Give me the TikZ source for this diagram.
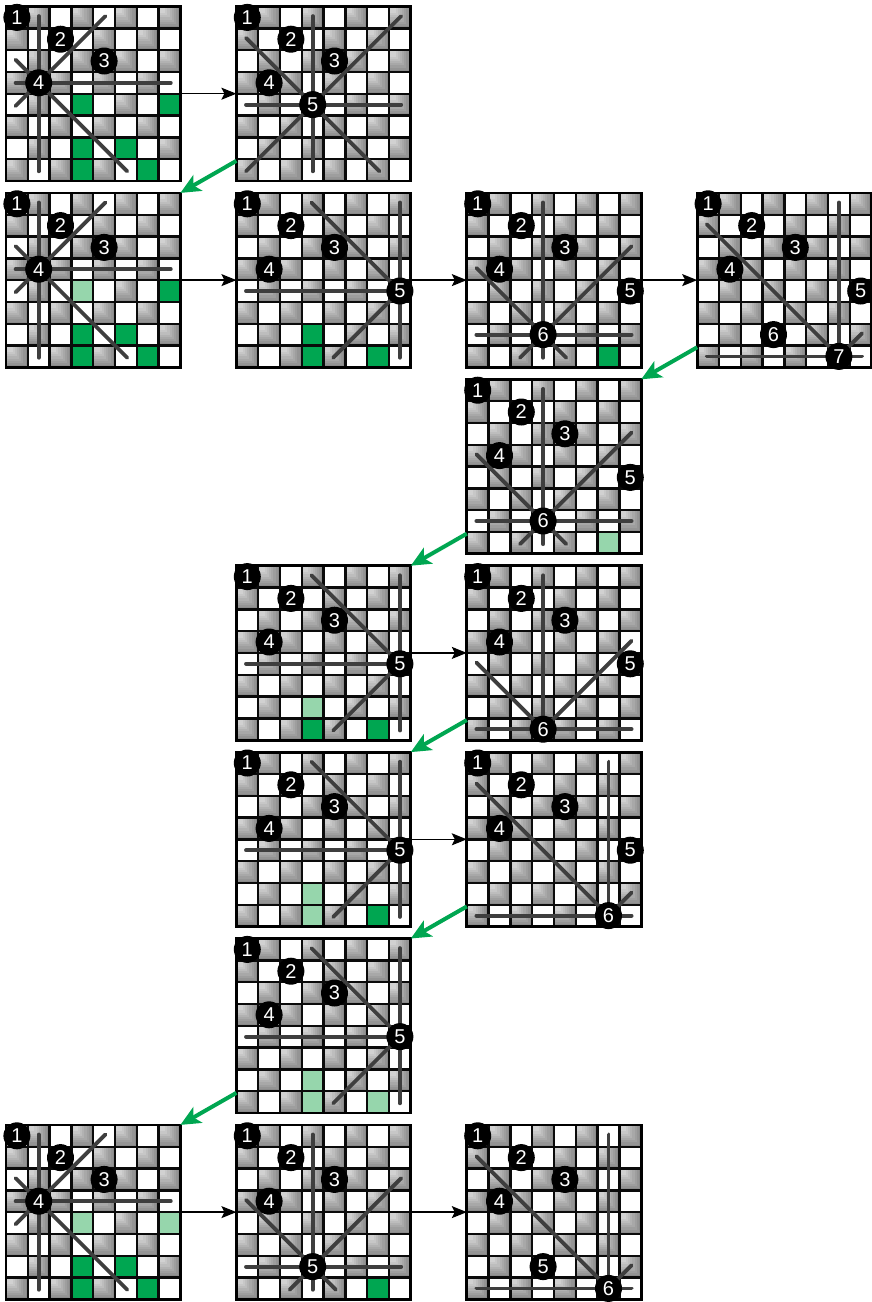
\documentclass[tikz,border=0pt]{standalone}
\usepackage{fontspec}
\newfontfamily\qfont{Liberation Sans}
\usetikzlibrary{arrows.meta,calc}
\definecolor{qgreen}{RGB}{0,166,81}
\definecolor{lgreen}{RGB}{150,214,172}
\definecolor{atkc}{RGB}{62,62,62}
\definecolor{gridc}{RGB}{10,10,10}
\newcounter{qn}
\tikzset{
 bd/.style 2 args={shift={(#1pt,-#2pt)},x=21.8pt,y=-21.8pt},
 frame/.style={draw=black, line width=2.8pt, minimum size=174.4pt, inner sep=0pt, outer sep=0pt},
 atk/.style={draw=atkc, line width=3.8pt, line cap=round},
 queen/.style={circle, fill=black, minimum size=27pt, inner sep=0pt, text=white, font=\qfont\fontsize{20}{20}\selectfont},
 fwd/.style={line width=1.4pt, -{Stealth[length=15pt,width=12pt,inset=3pt]}},
 back/.style={draw=qgreen, line width=4pt, -{Stealth[length=20pt,width=18pt,inset=5pt]}},
}
\newcommand\ext{0.06}
\newcommand\cells{%
 \fill[white] (0,0) rectangle (8,8);
 \foreach \r in {0,...,7}{\foreach \c in {0,...,7}{%
   \pgfmathtruncatemacro\pp{mod(\r+\c,2)}%
   \ifnum\pp=1
    \fill[black!46] (\c,\r) rectangle ++(1,1);
    \fill[black!42] (\c,\r) rectangle ++(0.9,0.9);
    \fill[black!38] (\c,\r) rectangle ++(0.8,0.8);
    \fill[black!34] (\c,\r) rectangle ++(0.7,0.7);
    \fill[black!30] (\c,\r) rectangle ++(0.6,0.6);
    \fill[black!26] (\c,\r) rectangle ++(0.5,0.5);
    \fill[black!22] (\c,\r) rectangle ++(0.4,0.4);
    \fill[black!18] (\c,\r) rectangle ++(0.3,0.3);
   \fi}}}
\newcommand\dgr[2]{\fill[qgreen] (#1,#2) rectangle ++(1,1);}
\newcommand\lgr[2]{\fill[lgreen] (#1,#2) rectangle ++(1,1);}
\newcommand\bgrid[1]{%
 \draw[gridc, line width=2.4pt] (0,0) grid[step=21.8pt] (8,8);
 \node[frame] (#1) at (4,4) {};}
\newcommand\attacks[2]{%
 \pgfmathtruncatemacro\kA{min(#1,#2)}%
 \pgfmathtruncatemacro\kB{min(7-#1,7-#2)}%
 \pgfmathtruncatemacro\kC{min(7-#1,#2)}%
 \pgfmathtruncatemacro\kD{min(#1,7-#2)}%
 \draw[atk] (#1+0.5,0.5-\ext) -- (#1+0.5,7.5+\ext);
 \draw[atk] (0.5-\ext,#2+0.5) -- (7.5+\ext,#2+0.5);
 \draw[atk] (#1-\kA+0.5-\ext,#2-\kA+0.5-\ext) -- (#1+\kB+0.5+\ext,#2+\kB+0.5+\ext);
 \draw[atk] (#1+\kC+0.5+\ext,#2-\kC+0.5-\ext) -- (#1-\kD+0.5-\ext,#2+\kD+0.5+\ext);}
\newcommand\qn[3]{\stepcounter{qn}\node[queen] (q\arabic{qn}) at (#1+0.5,#2+0.5) {#3};}
\newcommand\qbase{\qn{0}{0}{1}\qn{2}{1}{2}\qn{4}{2}{3}\qn{1}{3}{4}}
\begin{document}
\begin{tikzpicture}
\useasboundingbox (0pt,0pt) rectangle (872pt,-1302pt);
% Row A
\begin{scope}[bd={6}{6.5}]
 \cells \dgr{3}{4}\dgr{7}{4}\dgr{3}{6}\dgr{5}{6}\dgr{3}{7}\dgr{6}{7}
 \bgrid{bA1} \attacks{1}{3} \qbase
\end{scope}
\begin{scope}[bd={236.4}{6.5}]
 \cells \bgrid{bA2} \attacks{3}{4} \qbase \qn{3}{4}{5}
\end{scope}
% Row B
\begin{scope}[bd={6}{192.9}]
 \cells \lgr{3}{4}\dgr{7}{4}\dgr{3}{6}\dgr{5}{6}\dgr{3}{7}\dgr{6}{7}
 \bgrid{bB1} \attacks{1}{3} \qbase
\end{scope}
\begin{scope}[bd={236.4}{192.9}]
 \cells \dgr{3}{6}\dgr{3}{7}\dgr{6}{7}
 \bgrid{bB2} \attacks{7}{4} \qbase \qn{7}{4}{5}
\end{scope}
\begin{scope}[bd={466.8}{192.9}]
 \cells \dgr{6}{7}
 \bgrid{bB3} \attacks{3}{6} \qbase \qn{7}{4}{5}\qn{3}{6}{6}
\end{scope}
\begin{scope}[bd={697.2}{192.9}]
 \cells
 \bgrid{bB4} \attacks{6}{7} \qbase \qn{7}{4}{5}\qn{3}{6}{6}\qn{6}{7}{7}
\end{scope}
% Row C
\begin{scope}[bd={466.8}{379.3}]
 \cells \lgr{6}{7}
 \bgrid{bC} \attacks{3}{6} \qbase \qn{7}{4}{5}\qn{3}{6}{6}
\end{scope}
% Row D
\begin{scope}[bd={236.4}{565.7}]
 \cells \lgr{3}{6}\dgr{3}{7}\dgr{6}{7}
 \bgrid{bD1} \attacks{7}{4} \qbase \qn{7}{4}{5}
\end{scope}
\begin{scope}[bd={466.8}{565.7}]
 \cells
 \bgrid{bD2} \attacks{3}{7} \qbase \qn{7}{4}{5}\qn{3}{7}{6}
\end{scope}
% Row E
\begin{scope}[bd={236.4}{752.1}]
 \cells \lgr{3}{6}\lgr{3}{7}\dgr{6}{7}
 \bgrid{bE1} \attacks{7}{4} \qbase \qn{7}{4}{5}
\end{scope}
\begin{scope}[bd={466.8}{752.1}]
 \cells
 \bgrid{bE2} \attacks{6}{7} \qbase \qn{7}{4}{5}\qn{6}{7}{6}
\end{scope}
% Row F
\begin{scope}[bd={236.4}{938.5}]
 \cells \lgr{3}{6}\lgr{3}{7}\lgr{6}{7}
 \bgrid{bF} \attacks{7}{4} \qbase \qn{7}{4}{5}
\end{scope}
% Row G
\begin{scope}[bd={6}{1124.9}]
 \cells \lgr{3}{4}\lgr{7}{4}\dgr{3}{6}\dgr{5}{6}\dgr{3}{7}\dgr{6}{7}
 \bgrid{bG1} \attacks{1}{3} \qbase
\end{scope}
\begin{scope}[bd={236.4}{1124.9}]
 \cells \dgr{6}{7}
 \bgrid{bG2} \attacks{3}{6} \qbase \qn{3}{6}{5}
\end{scope}
\begin{scope}[bd={466.8}{1124.9}]
 \cells
 \bgrid{bG3} \attacks{6}{7} \qbase \qn{3}{6}{5}\qn{6}{7}{6}
\end{scope}
% forward arrows
\draw[fwd] (bA1.east) -- (bA2.west);
\draw[fwd] (bB1.east) -- (bB2.west);
\draw[fwd] (bB2.east) -- (bB3.west);
\draw[fwd] (bB3.east) -- (bB4.west);
\draw[fwd] (bD1.east) -- (bD2.west);
\draw[fwd] (bE1.east) -- (bE2.west);
\draw[fwd] (bG1.east) -- (bG2.west);
\draw[fwd] (bG2.east) -- (bG3.west);
% backtrack arrows
\draw[back] ($(bA2.north west)!0.885!(bA2.south west)$) -- (bB1.north east);
\draw[back] ($(bB4.north west)!0.885!(bB4.south west)$) -- (bC.north east);
\draw[back] ($(bC.north west)!0.885!(bC.south west)$) -- (bD1.north east);
\draw[back] ($(bD2.north west)!0.885!(bD2.south west)$) -- (bE1.north east);
\draw[back] ($(bE2.north west)!0.885!(bE2.south west)$) -- (bF.north east);
\draw[back] ($(bF.north west)!0.885!(bF.south west)$) -- (bG1.north east);
\end{tikzpicture}
\end{document}
